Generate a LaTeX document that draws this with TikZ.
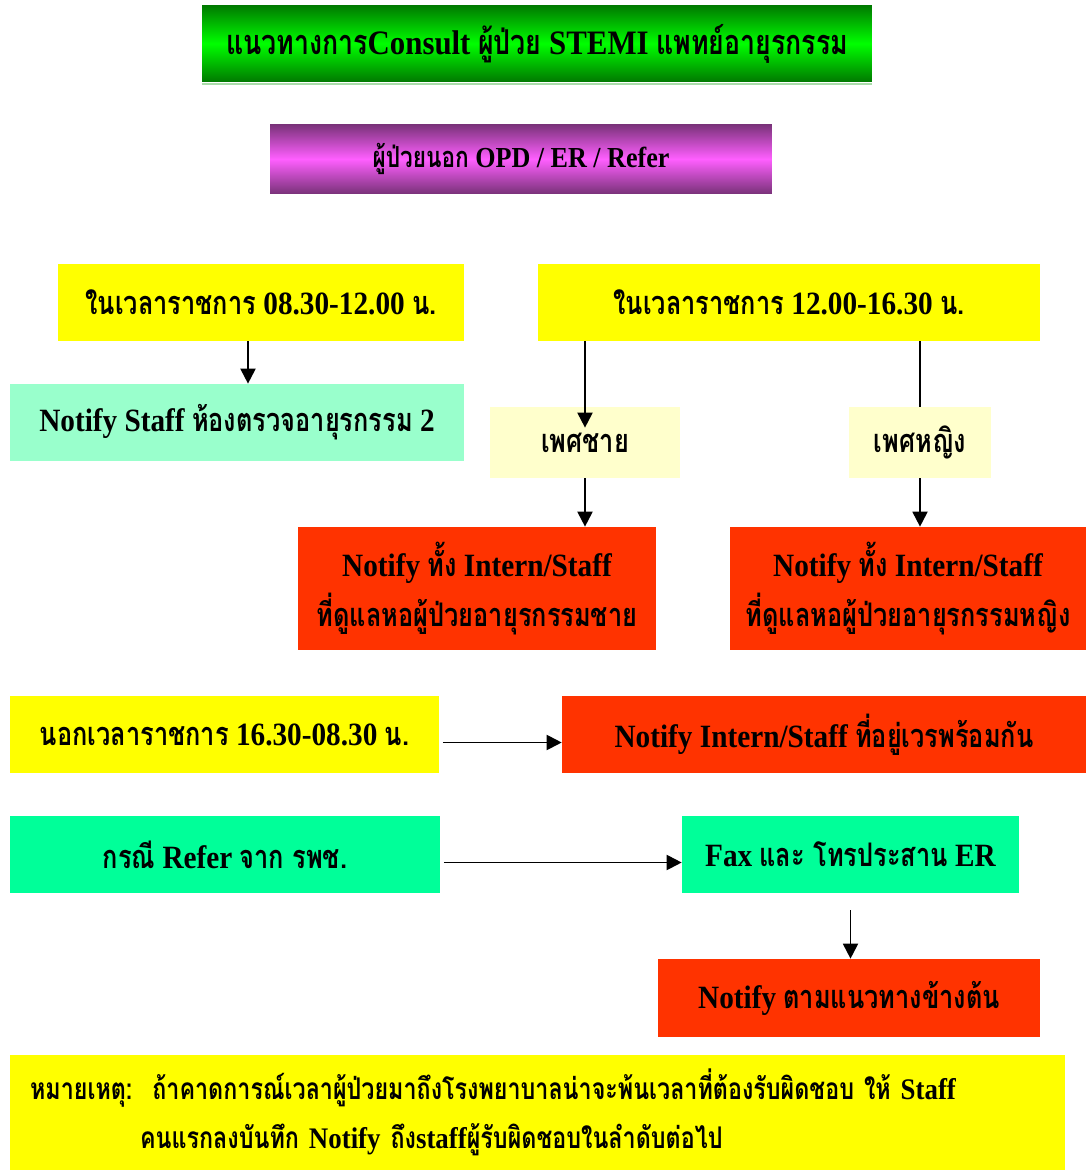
\documentclass[tikz,border=0pt]{standalone}
\usepackage{fontspec}
\setmainfont{Liberation Serif}[FakeStretch=0.9]
\newfontfamily\thaifont[Script=Thai, FakeStretch=0.78]{Loma}
\usetikzlibrary{arrows.meta}

\newcommand\tth[1]{{\thaifont #1}}

\definecolor{myyellow}{RGB}{255,255,0}
\definecolor{myaqua}{RGB}{153,255,204}
\definecolor{mycream}{RGB}{255,255,204}
\definecolor{myred}{RGB}{255,51,0}
\definecolor{mygreen}{RGB}{0,255,153}
\definecolor{darkgreen}{RGB}{0,120,0}
\definecolor{brightgreen}{RGB}{0,255,0}
\definecolor{lightline}{RGB}{170,220,170}
\definecolor{darkmagenta}{RGB}{120,50,120}
\definecolor{brightmagenta}{RGB}{255,95,255}

\tikzset{
	box/.style={rectangle, inner sep=0pt, align=center, font=\bfseries\fontsize{18.5}{28}\selectfont},
	arr/.style={-{Triangle[length=0.3cm,width=0.3cm]}, line width=1.1pt},
	link/.style={line width=1.1pt},
}

\begin{document}
\begin{tikzpicture}[x=0.02cm, y=-0.02cm]
	
	\useasboundingbox (0,0) rectangle (1086,1173);
	
	% header boxes
	\node[box, top color=darkgreen, bottom color=darkgreen, middle color=brightgreen,
		minimum width=13.4cm, minimum height=1.54cm, font=\bfseries\fontsize{19.5}{28}\selectfont] (title) at (537,43.5)
		{\tth{แนวทางการ}Consult \tth{ผู้ป่วย} STEMI \tth{แพทย์อายุรกรรม}};
	\draw[lightline, line width=1pt] ([yshift=-1pt]title.south west) -- ([yshift=-1pt]title.south east);
	
	\node[box, top color=darkmagenta, bottom color=darkmagenta, middle color=brightmagenta,
		minimum width=10.04cm, minimum height=1.4cm, font=\bfseries\fontsize{16.5}{20}\selectfont] (patient) at (521,159)
		{\tth{ผู้ป่วยนอก} OPD / ER / Refer};
	
	% office hours
	\node[box, fill=myyellow, minimum width=8.12cm, minimum height=1.54cm] (morning) at (261,302.5)
		{\tth{ในเวลาราชการ} 08.30-12.00 \tth{น.}};
	\node[box, fill=myyellow, minimum width=10.04cm, minimum height=1.54cm] (afternoon) at (789,302.5)
		{\tth{ในเวลาราชการ} 12.00-16.30 \tth{น.}};
	
	\node[box, fill=myaqua, minimum width=9.08cm, minimum height=1.54cm] (staff) at (237,422.5)
		{Notify Staff \tth{ห้องตรวจอายุรกรรม} 2};
	
	\node[box, fill=mycream, minimum width=3.8cm, minimum height=1.42cm] (male) at (585,442.5)
		{\tth{เพศชาย}};
	\node[box, fill=mycream, minimum width=2.84cm, minimum height=1.42cm] (female) at (920,442.5)
		{\tth{เพศหญิง}};
	
	\node[box, fill=myred, minimum width=7.16cm, minimum height=2.46cm] (maleward) at (477,588.5)
		{Notify \tth{ทั้ง} Intern/Staff\\ \tth{ที่ดูแลหอผู้ป่วยอายุรกรรมชาย}};
	\node[box, fill=myred, minimum width=7.12cm, minimum height=2.46cm] (femaleward) at (908,588.5)
		{Notify \tth{ทั้ง} Intern/Staff\\ \tth{ที่ดูแลหอผู้ป่วยอายุรกรรมหญิง}};
	
	% after hours
	\node[box, fill=myyellow, minimum width=8.58cm, minimum height=1.54cm] (night) at (224.5,734.5)
		{\tth{นอกเวลาราชการ} 16.30-08.30 \tth{น.}};
	\node[box, fill=myred, minimum width=10.48cm, minimum height=1.54cm] (onduty) at (824,734.5)
		{Notify Intern/Staff \tth{ที่อยู่เวรพร้อมกัน}};
	
	% refer
	\node[box, fill=mygreen, minimum width=8.6cm, minimum height=1.54cm] (refer) at (225,854.5)
		{\tth{กรณี} Refer \tth{จาก รพช.}};
	\node[box, fill=mygreen, minimum width=6.74cm, minimum height=1.54cm] (fax) at (850.5,854.5)
		{Fax \tth{และ โทรประสาน} ER};
	\node[box, fill=myred, minimum width=7.64cm, minimum height=1.56cm] (guide) at (849,998)
		{Notify \tth{ตามแนวทางข้างต้น}};
	
	% note
	\node[box, fill=myyellow, minimum width=21.1cm, minimum height=2.3cm, text width=20.3cm, align=left,
		font=\bfseries\fontsize{17}{28}\selectfont] (note) at (537.5,1112.5)
		{\tth{หมายเหตุ:}\ \ \tth{ถ้าคาดการณ์เวลาผู้ป่วยมาถึงโรงพยาบาลน่าจะพ้นเวลาที่ต้องรับผิดชอบ ให้} Staff\\
		\hspace*{2.2cm}\tth{คนแรกลงบันทึก} Notify \tth{ถึง}staff\tth{ผู้รับผิดชอบในลำดับต่อไป}};
	
	% connectors
	\draw[arr] ([xshift=-0.26cm]morning.south) -- ([xshift=-0.26cm]morning.south |- staff.north);
	\draw[arr] (male |- afternoon.south) -- ([yshift=-0.42cm]male.north);
	\draw[link] (female |- afternoon.south) -- (female.north);
	\draw[arr] (male.south) -- (male |- maleward.north);
	\draw[arr] (female.south) -- (female |- femaleward.north);
	\draw[arr] ([shift={(2pt,-0.16cm)}]night.east) -- ([yshift=-0.16cm]onduty.west);
	\draw[arr] ([shift={(2pt,-0.16cm)}]refer.east) -- ([yshift=-0.16cm]fax.west);
	\draw[arr] ([yshift=-0.34cm]fax.south) -- (fax.south |- guide.north);
	
\end{tikzpicture}
\end{document}
